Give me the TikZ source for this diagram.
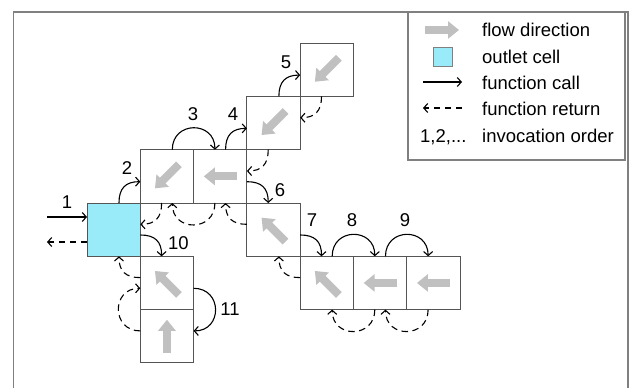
\documentclass[tikz,border=0pt]{standalone}
\usepackage{fontspec}
\setmainfont{Liberation Sans}
\usetikzlibrary{arrows.meta,calc}
\definecolor{flowgray}{RGB}{192,192,192}
\definecolor{outletcyan}{RGB}{153,235,250}
\definecolor{cellline}{RGB}{85,85,85}
\definecolor{framegray}{RGB}{128,128,128}
\begin{document}
\begin{tikzpicture}[x=1pt,y=1pt,
  cell/.style={rectangle, draw=cellline, line width=0.9pt, minimum size=53.3pt, inner sep=0pt, outer sep=0pt},
  outlet/.style={cell, fill=outletcyan},
  flow/.style={draw=flowgray, line width=8pt, -{Triangle[length=11pt,width=17pt]}},
  call/.style={draw=black, line width=1.1pt, -{Straight Barb[length=4pt,width=9pt]}},
  ret/.style={call, dash pattern=on 6.5pt off 4.5pt},
  lbl/.style={font=\fontsize{18.5}{20}\selectfont, inner sep=0pt},
  legtext/.style={lbl, anchor=base west},
  arc/.style={looseness=1.75},
  corner/.style={looseness=1.25}]
\useasboundingbox (0,0) rectangle (629,-388);
% frame
\draw[framegray, line width=1.4pt] (13.5,-390) -- (13.5,-12) -- (628,-12) -- (628,-390);
% legend box
\draw[framegray, line width=1.2pt] (408,-12) rectangle (625,-160);

% cells
\node[outlet] (o) at (113.65,-229.65) {};
\node[cell] (a) at (166.95,-176.35) {};
\node[cell] (b) at (220.25,-176.35) {};
\node[cell] (c) at (273.55,-123.05) {};
\node[cell] (d) at (326.85,-69.75) {};
\node[cell] (e) at (273.55,-229.65) {};
\node[cell] (f) at (326.85,-282.95) {};
\node[cell] (g) at (380.15,-282.95) {};
\node[cell] (h) at (433.45,-282.95) {};
\node[cell] (k) at (166.95,-282.95) {};
\node[cell] (m) at (166.95,-336.25) {};

% flow directions
\draw[flow] ($(a)+(12,12)$) -- ($(a)+(-12,-12)$);
\draw[flow] ($(b)+(16.5,0)$) -- ($(b)+(-16.5,0)$);
\draw[flow] ($(c)+(12,12)$) -- ($(c)+(-12,-12)$);
\draw[flow] ($(d)+(12,12)$) -- ($(d)+(-12,-12)$);
\draw[flow] ($(e)+(12,-12)$) -- ($(e)+(-12,12)$);
\draw[flow] ($(f)+(12,-12)$) -- ($(f)+(-12,12)$);
\draw[flow] ($(g)+(16.5,0)$) -- ($(g)+(-16.5,0)$);
\draw[flow] ($(h)+(16.5,0)$) -- ($(h)+(-16.5,0)$);
\draw[flow] ($(k)+(12,-12)$) -- ($(k)+(-12,12)$);
\draw[flow] ($(m)+(0,-16.5)$) -- ($(m)+(0,16.5)$);

% entry / exit
\coordinate (in1) at (47,-217);
\coordinate (out1) at (47,-242);
\draw[call] (in1) -- (in1 -| o.west);
\draw[ret] (out1 -| o.west) -- (out1);

% function calls
\draw[call] ($(o.north west)!0.6!(o.north east)$) to[out=90,in=180,corner] ($(a.north west)!0.6!(a.south west)$);
\draw[call] ($(a.north west)!0.6!(a.north east)$) to[out=90,in=90,arc] ($(b.north west)!0.4!(b.north east)$);
\draw[call] ($(b.north west)!0.6!(b.north east)$) to[out=90,in=180,corner] ($(c.north west)!0.6!(c.south west)$);
\draw[call] ($(c.north west)!0.6!(c.north east)$) to[out=90,in=180,corner] ($(d.north west)!0.6!(d.south west)$);
\draw[call] ($(b.north east)!0.6!(b.south east)$) to[out=0,in=90,corner] ($(e.north west)!0.4!(e.north east)$);
\draw[call] ($(e.north east)!0.6!(e.south east)$) to[out=0,in=90,corner] ($(f.north west)!0.4!(f.north east)$);
\draw[call] ($(f.north west)!0.6!(f.north east)$) to[out=90,in=90,arc] ($(g.north west)!0.4!(g.north east)$);
\draw[call] ($(g.north west)!0.6!(g.north east)$) to[out=90,in=90,arc] ($(h.north west)!0.4!(h.north east)$);
\draw[call] ($(o.north east)!0.6!(o.south east)$) to[out=0,in=90,corner] ($(k.north west)!0.4!(k.north east)$);
\draw[call] ($(k.north east)!0.6!(k.south east)$) to[out=0,in=0,arc] ($(m.north east)!0.4!(m.south east)$);

% function returns
\draw[ret] ($(d.south west)!0.4!(d.south east)$) to[out=-90,in=0,corner] ($(c.north east)!0.4!(c.south east)$);
\draw[ret] ($(c.south west)!0.4!(c.south east)$) to[out=-90,in=0,corner] ($(b.north east)!0.4!(b.south east)$);
\draw[ret] ($(b.south west)!0.4!(b.south east)$) to[out=-90,in=-90,arc] ($(a.south west)!0.6!(a.south east)$);
\draw[ret] ($(e.north west)!0.4!(e.south west)$) to[out=180,in=-90,corner] ($(b.south west)!0.6!(b.south east)$);
\draw[ret] ($(a.south west)!0.4!(a.south east)$) to[out=-90,in=0,corner] ($(o.north east)!0.4!(o.south east)$);
\draw[ret] ($(f.north west)!0.4!(f.south west)$) to[out=180,in=-90,corner] ($(e.south west)!0.6!(e.south east)$);
\draw[ret] ($(g.south west)!0.4!(g.south east)$) to[out=-90,in=-90,arc] ($(f.south west)!0.6!(f.south east)$);
\draw[ret] ($(h.south west)!0.4!(h.south east)$) to[out=-90,in=-90,arc] ($(g.south west)!0.6!(g.south east)$);
\draw[ret] ($(k.north west)!0.4!(k.south west)$) to[out=180,in=-90,corner] ($(o.south west)!0.6!(o.south east)$);
\draw[ret] ($(m.north west)!0.4!(m.south west)$) to[out=180,in=180,arc] ($(k.north west)!0.6!(k.south west)$);

% invocation numbers
\node[lbl] (n1) at (67,-202) {1};
\node[lbl] (n2) at (127,-168) {2};
\node[lbl] (n3) at (193,-114) {3};
\node[lbl] (n4) at (233,-114) {4};
\node[lbl] (n5) at (286,-62) {5};
\node[lbl] (n6) at (280,-190) {6};
\node[lbl] (n7) at (312,-220) {7};
\node[lbl] (n8) at (352,-220) {8};
\node[lbl] (n9) at (405,-220) {9};
\node[lbl] (n10) at (178.5,-243) {10};
\node[lbl] (n11) at (230,-309) {11};

% legend
\coordinate (lf1) at (425,-30);
\coordinate (lf2) at (459,-30);
\draw[flow] (lf1) -- (lf2);
\node[rectangle, draw=framegray, line width=0.8pt, fill=outletcyan, minimum size=19pt, inner sep=0pt] (lo) at (442.5,-57) {};
\coordinate (lc1) at (423,-82);
\coordinate (lc2) at (462,-82);
\draw[call] (lc1) -- (lc2);
\coordinate (lr1) at (423,-108);
\coordinate (lr2) at (462,-108);
\draw[ret] (lr2) -- (lr1);
\node[legtext] (lt0) at (420,-142) {1,2,...};
\node[legtext] (lt1) at (482,-36.5) {flow direction};
\node[legtext] (lt2) at (482,-63) {outlet cell};
\node[legtext] (lt3) at (482,-89) {function call};
\node[legtext] (lt4) at (482,-115.5) {function return};
\node[legtext] (lt5) at (482,-142) {invocation order};
\end{tikzpicture}
\end{document}
